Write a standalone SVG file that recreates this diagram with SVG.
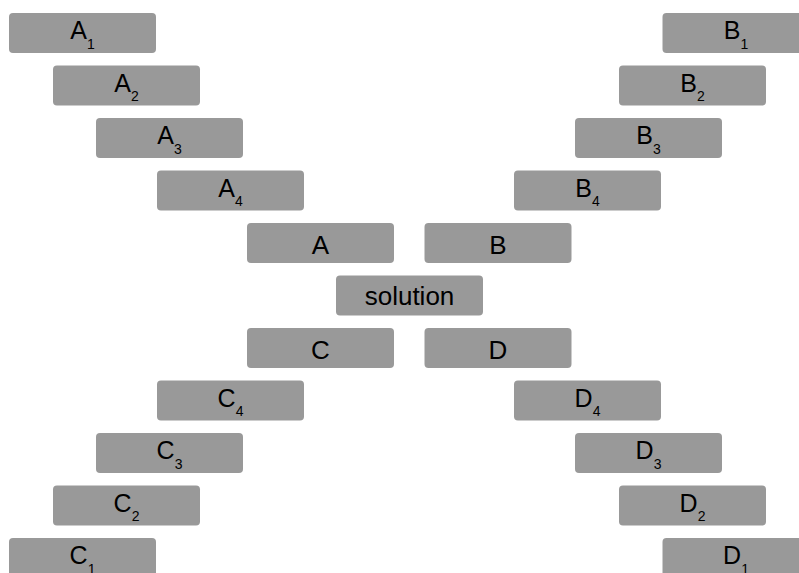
<svg xmlns="http://www.w3.org/2000/svg" width="799" height="573" viewBox="0 0 799 573">
<style>
.box{fill:#999999;}
.t{font-family:"Liberation Sans",Arial,sans-serif;font-size:25px;fill:#000;text-anchor:middle;}
.big{font-size:26px;}
.s{font-size:14px;}
</style>
<rect width="799" height="573" fill="#ffffff"/>
<g id="connectors"></g>
<g id="A1"><rect class="box" x="9" y="13" width="147" height="40" rx="4"/><text class="t" x="82.5" y="39">A<tspan class="s" dy="9.5">1</tspan></text></g>
<g id="A2"><rect class="box" x="53" y="65.5" width="147" height="40" rx="4"/><text class="t" x="126.5" y="91.5">A<tspan class="s" dy="9.5">2</tspan></text></g>
<g id="A3"><rect class="box" x="96" y="118" width="147" height="40" rx="4"/><text class="t" x="169.5" y="144">A<tspan class="s" dy="9.5">3</tspan></text></g>
<g id="A4"><rect class="box" x="157" y="170.5" width="147" height="40" rx="4"/><text class="t" x="230.5" y="196.5">A<tspan class="s" dy="9.5">4</tspan></text></g>
<g id="A"><rect class="box" x="247" y="223" width="147" height="40" rx="4"/><text class="t big" x="320.5" y="253.5">A</text></g>
<g id="B1"><rect class="box" x="662.5" y="13" width="147" height="40" rx="4"/><text class="t" x="736" y="39">B<tspan class="s" dy="9.5">1</tspan></text></g>
<g id="B2"><rect class="box" x="619" y="65.5" width="147" height="40" rx="4"/><text class="t" x="692.5" y="91.5">B<tspan class="s" dy="9.5">2</tspan></text></g>
<g id="B3"><rect class="box" x="575" y="118" width="147" height="40" rx="4"/><text class="t" x="648.5" y="144">B<tspan class="s" dy="9.5">3</tspan></text></g>
<g id="B4"><rect class="box" x="514" y="170.5" width="147" height="40" rx="4"/><text class="t" x="587.5" y="196.5">B<tspan class="s" dy="9.5">4</tspan></text></g>
<g id="B"><rect class="box" x="424.5" y="223" width="147" height="40" rx="4"/><text class="t big" x="498" y="253.5">B</text></g>
<g id="solution"><rect class="box" x="336" y="275.5" width="147" height="40" rx="4"/><text class="t big" x="409.5" y="304.5">solution</text></g>
<g id="C"><rect class="box" x="247" y="328" width="147" height="40" rx="4"/><text class="t big" x="320.5" y="358.5">C</text></g>
<g id="C4"><rect class="box" x="157" y="380.5" width="147" height="40" rx="4"/><text class="t" x="230.5" y="406.5">C<tspan class="s" dy="9.5">4</tspan></text></g>
<g id="C3"><rect class="box" x="96" y="433" width="147" height="40" rx="4"/><text class="t" x="169.5" y="459">C<tspan class="s" dy="9.5">3</tspan></text></g>
<g id="C2"><rect class="box" x="53" y="485.5" width="147" height="40" rx="4"/><text class="t" x="126.5" y="511.5">C<tspan class="s" dy="9.5">2</tspan></text></g>
<g id="C1"><rect class="box" x="9" y="538" width="147" height="40" rx="4"/><text class="t" x="82.5" y="564">C<tspan class="s" dy="9.5">1</tspan></text></g>
<g id="D"><rect class="box" x="424.5" y="328" width="147" height="40" rx="4"/><text class="t big" x="498" y="358.5">D</text></g>
<g id="D4"><rect class="box" x="514" y="380.5" width="147" height="40" rx="4"/><text class="t" x="587.5" y="406.5">D<tspan class="s" dy="9.5">4</tspan></text></g>
<g id="D3"><rect class="box" x="575" y="433" width="147" height="40" rx="4"/><text class="t" x="648.5" y="459">D<tspan class="s" dy="9.5">3</tspan></text></g>
<g id="D2"><rect class="box" x="619" y="485.5" width="147" height="40" rx="4"/><text class="t" x="692.5" y="511.5">D<tspan class="s" dy="9.5">2</tspan></text></g>
<g id="D1"><rect class="box" x="662.5" y="538" width="147" height="40" rx="4"/><text class="t" x="736" y="564">D<tspan class="s" dy="9.5">1</tspan></text></g>
</svg>
